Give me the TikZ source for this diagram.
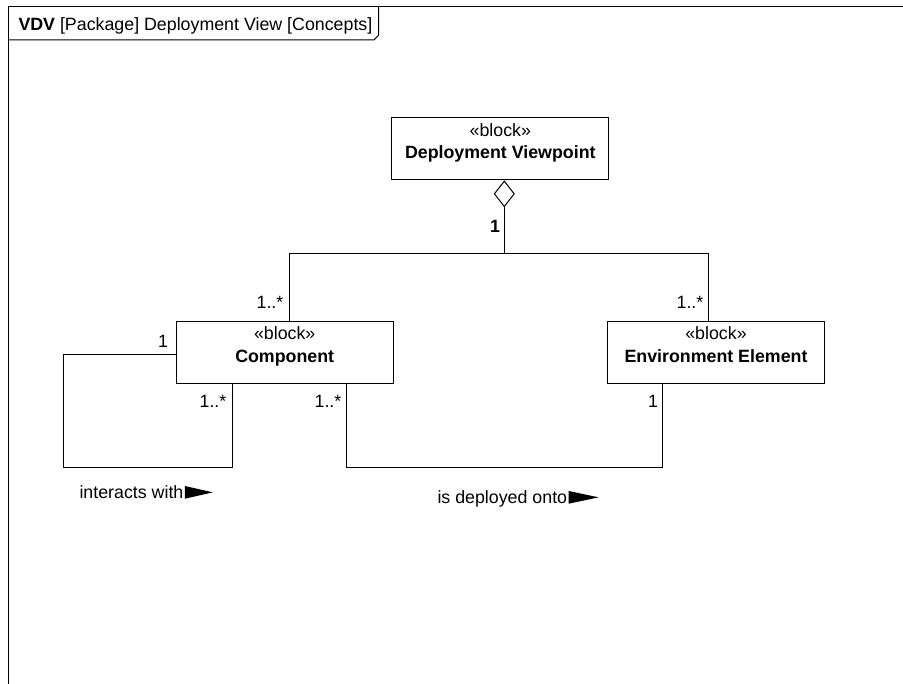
\documentclass[tikz,border=0pt]{standalone}
\usepackage{fontspec}
\setmainfont{Liberation Sans}
\usepackage{tikz}
\usetikzlibrary{positioning, arrows.meta}

\begin{document}
\begin{tikzpicture}[x=1pt, y=-1pt, line width=1pt,
                    every node/.style={font=\fontsize{17.8}{22.4}\selectfont},
                    block/.style={draw, minimum width=217.3pt, inner xsep=0pt,
                                  inner ysep=0pt, align=center,
                                  text height=41.1pt, text depth=21.2pt},
                    mult/.style={inner sep=0pt}]
  \useasboundingbox (0,0) rectangle (903,684);
  % frame with its name tab
  \draw (8.5,684) -- (8.5,6.5) -- (903,6.5);
  \draw (8.5,40) -- (374,40) -- (378.7,35) -- (378.7,6.5);
  \node[anchor=west, inner sep=0pt] (title) at (18,26)
    {\textbf{VDV} [Package] Deployment View [Concepts]};
  % blocks
  \node[block] (dv) at (500.3,148.7) {«block»\\\textbf{Deployment Viewpoint}};
  \node[block] (comp) at (284.7,352.2) {«block»\\\textbf{Component}};
  \node[block, right=213pt of comp] (ee) {«block»\\\textbf{Environment Element}};
  % aggregation
  \coordinate (agg) at (504.3,253.3);
  \draw[-{Diamond[open, length=27pt, width=21pt]}] (agg) -- (agg |- dv.south);
  \draw ([xshift=4.6pt]comp.north) |- (agg) -| ([xshift=-7.3pt]ee.north);
  \node[mult] (mdv) at (495,226) {\textbf{1}};
  \node[mult] (mcomptop) at (270,302) {1..*};
  \node[mult] (meetop) at (690,302) {1..*};
  % interacts with
  \coordinate (loopbl) at (63.3,467.3);
  \draw ([yshift=-2.8pt]comp.west) -| (loopbl) -| ([xshift=-52pt]comp.south);
  \node[mult] (mloopa) at (163,341.7) {1};
  \node[mult] (mloopb) at (213,401.7) {1..*};
  \node[anchor=base west, inner sep=0pt] (iw) at (79,498.7) {interacts with};
  \fill ([xshift=1pt]iw.base east) -- ++(0,-12.7) -- ++(28,6.35) -- cycle;
  % is deployed onto
  \coordinate (deplow) at (662.7,467.7);
  \draw ([xshift=61.3pt]comp.south) |- (deplow) -- (deplow |- ee.south);
  \node[mult] (mdepa) at (328,401.7) {1..*};
  \node[mult] (mdepb) at (653,401.7) {1};
  \node[anchor=base west, inner sep=0pt] (dep) at (437,503.7) {is deployed onto};
  \fill ([xshift=1pt]dep.base east) -- ++(0,-12.7) -- ++(30,6.35) -- cycle;
\end{tikzpicture}
\end{document}
